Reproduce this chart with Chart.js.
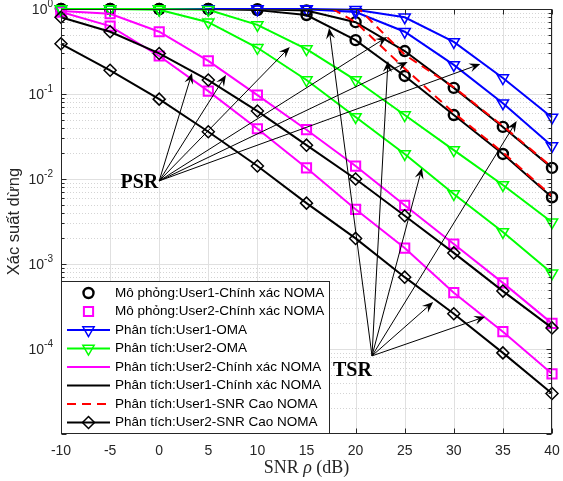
<!DOCTYPE html>
<html>
<head>
<meta charset="utf-8">
<script src="https://cdn.jsdelivr.net/npm/chart.js@4.4.1/dist/chart.umd.min.js"></script>
<style>
    html, body { margin: 0; padding: 0; background: #fff; }
    #wrap { width: 563px; height: 481px; }
</style>
</head>
<body>
<div id="wrap"><canvas id="chart" width="563" height="481"></canvas></div>
<script>
// Trục hoành: SNR (dB)
const snrDb = [-10, -5, 0, 5, 10, 15, 20, 25, 30, 35, 40];

// User1 - chính xác NOMA (đường đen + vòng tròn mô phỏng), hai trường hợp
const u1ExactA = [1, 1, 1, 1, 0.995, 0.96, 0.70, 0.32, 0.118, 0.041, 0.0135];
const u1ExactB = [1, 1, 1, 1, 0.97, 0.85, 0.43, 0.163, 0.0566, 0.0197, 0.0061];
const u1SimA = [1, 1, 1, 1, 0.995, 0.96, 0.70, 0.32, 0.118, 0.041, 0.0135];
const u1SimB = [1, 1, 1, 1, 0.97, 0.85, 0.43, 0.163, 0.0566, 0.0197, 0.0061];

// User2 - chính xác NOMA (đường hồng + ô vuông mô phỏng)
const u2ExactA = [0.95, 0.88, 0.54, 0.245, 0.097, 0.038, 0.0142, 0.0049, 0.00172, 0.0006, 0.0002];
const u2ExactB = [0.92, 0.63, 0.28, 0.108, 0.039, 0.0135, 0.0044, 0.00154, 0.00046, 0.00016, 0.000051];
const u2SimA = [0.95, 0.88, 0.54, 0.245, 0.097, 0.038, 0.0142, 0.0049, 0.00172, 0.0006, 0.0002];
const u2SimB = [0.92, 0.63, 0.28, 0.108, 0.039, 0.0135, 0.0044, 0.00154, 0.00046, 0.00016, 0.000051];

// OMA
const u1OmaA = [1, 1, 1, 1, 1, 1, 0.98, 0.8, 0.41, 0.154, 0.053];
const u1OmaB = [1, 1, 1, 1, 1, 0.99, 0.92, 0.54, 0.22, 0.078, 0.0245];
const u2OmaA = [1, 1, 1, 0.98, 0.65, 0.338, 0.146, 0.0566, 0.0219, 0.0085, 0.0031];
const u2OmaB = [1, 1, 0.98, 0.70, 0.35, 0.146, 0.0537, 0.0197, 0.00667, 0.00238, 0.00078];

// SNR cao
const u1HighA = [null, null, null, null, null, null, 1.1, 0.29, 0.12, 0.042, 0.0138];
const u1HighB = [null, null, null, null, null, 1.5, 0.7, 0.2, 0.06, 0.0205, 0.0063];
const u2HighA = [0.8, 0.54, 0.30, 0.146, 0.063, 0.025, 0.01, 0.0037, 0.00135, 0.00048, 0.000177];
const u2HighB = [0.39, 0.19, 0.087, 0.036, 0.0142, 0.0052, 0.002, 0.0007, 0.00026, 0.00009, 0.00003];

// Nhãn chú thích
const seriesLabels = [
    'Mô phỏng:User1-Chính xác NOMA',
    'Mô phỏng:User2-Chính xác NOMA',
    'Phân tích:User1-OMA',
    'Phân tích:User2-OMA',
    'Phân tích:User2-Chính xác NOMA',
    'Phân tích:User1-Chính xác NOMA',
    'Phân tích:User1-SNR Cao NOMA',
    'Phân tích:User2-SNR Cao NOMA'
];

// Nhãn trục
const xTicks = [-10, -5, 0, 5, 10, 15, 20, 25, 30, 35, 40];
const yDecades = [0, -1, -2, -3, -4];

// Mũi tên PSR / TSR (tọa độ dữ liệu)
const psrFrom = [0, 0.0095];
const psrTo = [[3.34, 0.177], [6.8, 0.167], [13.3, 0.357], [23.2, 0.469], [25.3, 0.238], [32.7, 0.225]];
const tsrFrom = [21.67, 8.3e-5];
const tsrTo = [[17.3, 0.598], [23.3, 0.244], [26.76, 0.0135], [36.4, 0.048], [27.9, 3.57e-4], [33.2, 2.4e-4]];

function pts(values) {
    return values.map((v, i) => ({ x: snrDb[i], y: v }));
}

const NONE = 'rgba(0,0,0,0)';

function simSet(values, color, style, radius, bw, label) {
    return {
        legendLabel: label, data: pts(values), showLine: false,
        borderColor: color, backgroundColor: NONE,
        pointStyle: style, pointRadius: radius, pointBorderWidth: bw,
        pointBackgroundColor: NONE, pointBorderColor: color, clip: false
    };
}

function lineSet(values, color, opts, label) {
    return Object.assign({
        legendLabel: label, data: pts(values), borderColor: color, backgroundColor: NONE,
        borderWidth: 2, pointRadius: 0, pointBackgroundColor: NONE, pointBorderColor: color,
        tension: 0
    }, opts);
}

const triOpts = { pointStyle: 'triangle', rotation: 180, pointRadius: 6.5, pointBorderWidth: 1.5, clip: false };
const diaOpts = { pointStyle: 'rectRot', pointRadius: 6, pointBorderWidth: 1.5, clip: false };

const datasets = [
    simSet(u1SimA, '#000000', 'circle', 5, 2.4, seriesLabels[0]),
    simSet(u1SimB, '#000000', 'circle', 5, 2.4),
    simSet(u2SimA, '#ff00ff', 'rect', 6.5, 2),
    simSet(u2SimB, '#ff00ff', 'rect', 6.5, 2),
    lineSet(u1OmaA, '#0000ff', triOpts, seriesLabels[2]),
    lineSet(u1OmaB, '#0000ff', triOpts),
    lineSet(u2OmaA, '#00ff00', triOpts, seriesLabels[3]),
    lineSet(u2OmaB, '#00ff00', triOpts),
    lineSet(u2ExactA, '#ff00ff', {}, seriesLabels[4]),
    lineSet(u2ExactB, '#ff00ff', {}),
    lineSet(u1ExactA, '#000000', {}, seriesLabels[5]),
    lineSet(u1ExactB, '#000000', {}),
    lineSet(u1HighA, '#ff0000', { borderDash: [9, 6] }, seriesLabels[6]),
    lineSet(u1HighB, '#ff0000', { borderDash: [9, 6] }),
    lineSet(u2HighA, '#000000', diaOpts, seriesLabels[7]),
    lineSet(u2HighB, '#000000', diaOpts)
];
datasets[2].legendLabel = seriesLabels[1];
// vẽ theo thứ tự: phần tử sau nằm trên
datasets.forEach((d, i) => { d.order = datasets.length - i; });

// Vẽ ký hiệu cho chú thích
function drawMarker(ctx, style, x, y, r) {
    ctx.beginPath();
    if (style === 'circle') {
        ctx.arc(x, y, r, 0, Math.PI * 2);
    } else if (style === 'rect') {
        const s = r * Math.SQRT1_2;
        ctx.rect(x - s, y - s, 2 * s, 2 * s);
    } else if (style === 'triangle') {
        for (let k = 0; k < 3; k++) {
            const a = Math.PI + k * 2 * Math.PI / 3;
            const px = x + Math.sin(a) * r, py = y - Math.cos(a) * r;
            if (k === 0) ctx.moveTo(px, py); else ctx.lineTo(px, py);
        }
        ctx.closePath();
    } else if (style === 'rectRot') {
        ctx.moveTo(x, y - r); ctx.lineTo(x + r, y); ctx.lineTo(x, y + r); ctx.lineTo(x - r, y);
        ctx.closePath();
    }
    ctx.stroke();
}

function drawArrow(ctx, x0, y0, x1, y1) {
    const dx = x1 - x0, dy = y1 - y0;
    const len = Math.hypot(dx, dy);
    const ux = dx / len, uy = dy / len;
    const nx = -uy, ny = ux;
    const L = 11, W = 4.5;
    const bx = x1 - ux * L, by = y1 - uy * L;
    const mx = x1 - ux * L * 0.62, my = y1 - uy * L * 0.62;
    ctx.beginPath();
    ctx.moveTo(x0, y0);
    ctx.lineTo(mx, my);
    ctx.stroke();
    ctx.beginPath();
    ctx.moveTo(x1, y1);
    ctx.lineTo(bx + nx * W, by + ny * W);
    ctx.lineTo(mx, my);
    ctx.lineTo(bx - nx * W, by - ny * W);
    ctx.closePath();
    ctx.fill();
}

const axisColor = '#262626';

const matlabLook = {
    id: 'matlabLook',
    beforeDatasetsDraw(chart) {
        const { ctx, chartArea: a, scales: { x, y } } = chart;
        ctx.save();
        ctx.lineWidth = 1;
        // lưới phụ (chấm)
        ctx.strokeStyle = '#d4d4d4';
        ctx.setLineDash([1, 2]);
        for (let e = -5; e < 0; e++) {
            for (let m = 2; m <= 9; m++) {
                const py = Math.round(y.getPixelForValue(m * Math.pow(10, e))) + 0.5;
                ctx.beginPath(); ctx.moveTo(a.left, py); ctx.lineTo(a.right, py); ctx.stroke();
            }
        }
        ctx.setLineDash([]);
        // lưới chính
        ctx.strokeStyle = '#e0e0e0';
        xTicks.forEach(v => {
            const px = Math.round(x.getPixelForValue(v)) + 0.5;
            ctx.beginPath(); ctx.moveTo(px, a.top); ctx.lineTo(px, a.bottom); ctx.stroke();
        });
        yDecades.forEach(e => {
            const py = Math.round(y.getPixelForValue(Math.pow(10, e))) + 0.5;
            ctx.beginPath(); ctx.moveTo(a.left, py); ctx.lineTo(a.right, py); ctx.stroke();
        });
        ctx.restore();
    },
    afterDatasetsDraw(chart) {
        const { ctx, chartArea: a, scales: { x, y } } = chart;
        ctx.save();
        // mũi tên
        ctx.strokeStyle = '#000';
        ctx.fillStyle = '#000';
        ctx.lineWidth = 1;
        const px = p => [x.getPixelForValue(p[0]), y.getPixelForValue(p[1])];
        const ps = px(psrFrom);
        psrTo.forEach(t => { const q = px(t); drawArrow(ctx, ps[0], ps[1], q[0], q[1]); });
        const ts = px(tsrFrom);
        tsrTo.forEach(t => { const q = px(t); drawArrow(ctx, ts[0], ts[1], q[0], q[1]); });
        ctx.font = 'bold 20px "Liberation Serif"';
        ctx.textBaseline = 'alphabetic';
        ctx.textAlign = 'right';
        ctx.fillText('PSR', ps[0] - 1, ps[1] + 7);
        ctx.textAlign = 'left';
        ctx.fillText('TSR', ts[0] - 39, ts[1] + 20);

        // khung trục
        ctx.strokeStyle = axisColor;
        ctx.lineWidth = 1;
        const L = Math.round(a.left) + 0.5, R = Math.round(a.right) - 0.5;
        const T = Math.round(a.top) + 0.5, B = Math.round(a.bottom) - 0.5;
        ctx.strokeRect(L, T, R - L, B - T);
        ctx.beginPath();
        xTicks.forEach(v => {
            const p = Math.round(x.getPixelForValue(v)) + 0.5;
            ctx.moveTo(p, B); ctx.lineTo(p, B - 5);
            ctx.moveTo(p, T); ctx.lineTo(p, T + 5);
        });
        for (let e = -5; e <= 0; e++) {
            for (let m = 1; m <= 9; m++) {
                const v = m * Math.pow(10, e);
                if (v > 1) break;
                const p = Math.round(y.getPixelForValue(v)) + 0.5;
                const len = m === 1 ? 5 : 3;
                ctx.moveTo(L, p); ctx.lineTo(L + len, p);
                ctx.moveTo(R, p); ctx.lineTo(R - len, p);
            }
        }
        ctx.stroke();

        // nhãn trục x
        ctx.fillStyle = axisColor;
        ctx.font = '14px "Liberation Sans"';
        ctx.textAlign = 'center';
        ctx.textBaseline = 'middle';
        xTicks.forEach(v => ctx.fillText(String(v), x.getPixelForValue(v), a.bottom + 17));

        // nhãn trục y dạng 10^k
        ctx.textBaseline = 'middle';
        yDecades.forEach(e => {
            const p = y.getPixelForValue(Math.pow(10, e));
            const exp = e === 0 ? '0' : '-' + String(-e);
            ctx.font = '10px "Liberation Sans"';
            const we = ctx.measureText(exp).width;
            ctx.textAlign = 'left';
            const right = a.left - 8;
            ctx.fillText(exp, right - we, p - 5);
            ctx.font = '14px "Liberation Sans"';
            ctx.textAlign = 'right';
            ctx.fillText('10', right - we, p + 1);
        });

        // tiêu đề trục y
        ctx.save();
        ctx.translate(14, (a.top + a.bottom) / 2);
        ctx.rotate(-Math.PI / 2);
        ctx.font = '16.5px "Liberation Sans"';
        ctx.textAlign = 'center';
        ctx.fillText('Xác suất dừng', 0, 0);
        ctx.restore();

        // tiêu đề trục x: SNR ρ (dB)
        const parts = [['SNR ', '18px "Liberation Serif"'], ['ρ', 'italic 18px "Liberation Serif"'], [' (dB)', '18px "Liberation Serif"']];
        let total = 0;
        parts.forEach(p => { ctx.font = p[1]; total += ctx.measureText(p[0]).width; });
        let cx = (a.left + a.right) / 2 - total / 2;
        ctx.textAlign = 'left';
        ctx.textBaseline = 'alphabetic';
        parts.forEach(p => { ctx.font = p[1]; ctx.fillText(p[0], cx, 473); cx += ctx.measureText(p[0]).width; });
        ctx.restore();
    },
    afterDraw(chart) {
        const { ctx, chartArea: a } = chart;
        const items = chart.data.datasets.filter(d => d.legendLabel);
        const box = { left: Math.round(a.left) + 0.5, top: 281.5, right: 329.5, bottom: Math.round(a.bottom) - 0.5 };
        ctx.save();
        ctx.fillStyle = '#fff';
        ctx.fillRect(box.left, box.top, box.right - box.left, box.bottom - box.top);
        ctx.strokeStyle = axisColor;
        ctx.lineWidth = 1;
        ctx.strokeRect(box.left, box.top, box.right - box.left, box.bottom - box.top);
        ctx.font = '13.5px "Liberation Sans"';
        ctx.textBaseline = 'middle';
        ctx.textAlign = 'left';
        items.forEach((d, i) => {
            const cy = 293 + i * 18.5;
            ctx.strokeStyle = d.borderColor;
            if (d.showLine !== false) {
                ctx.lineWidth = d.borderWidth;
                ctx.setLineDash(d.borderDash || []);
                ctx.beginPath(); ctx.moveTo(67, cy); ctx.lineTo(110, cy); ctx.stroke();
                ctx.setLineDash([]);
            }
            if (d.pointRadius > 0) {
                ctx.lineWidth = d.pointBorderWidth;
                drawMarker(ctx, d.pointStyle, 88.5, cy, d.pointRadius);
            }
            ctx.fillStyle = '#000';
            ctx.fillText(d.legendLabel, 115, cy);
        });
        ctx.restore();
    }
};

new Chart(document.getElementById('chart'), {
    type: 'line',
    data: { datasets: datasets },
    options: {
        responsive: false,
        animation: false,
        events: [],
        layout: { padding: { left: 61, right: 11, top: 9, bottom: 47 } },
        plugins: { legend: { display: false }, tooltip: { enabled: false } },
        scales: {
            x: { type: 'linear', min: -10, max: 40, display: false },
            y: { type: 'logarithmic', min: 1e-5, max: 1, display: false }
        }
    },
    plugins: [matlabLook]
});
</script>
</body>
</html>
